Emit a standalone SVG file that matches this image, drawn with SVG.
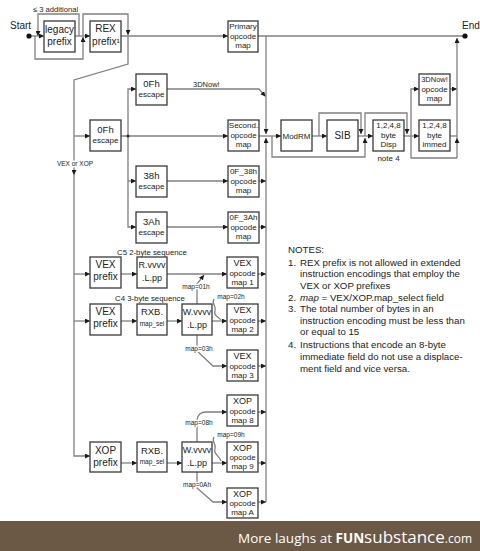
<svg xmlns="http://www.w3.org/2000/svg" width="480" height="551" viewBox="0 0 480 551">
<defs>
<marker id="ah" viewBox="0 0 6 6" refX="6" refY="3" markerWidth="5" markerHeight="5" markerUnits="userSpaceOnUse" orient="auto"><path d="M0,0 L6,3 L0,6 z" fill="#1a1a1a"/></marker>
</defs>
<style>
.b{fill:#fff;stroke:#3a3a3a;stroke-width:1.3}
.c path{fill:none;stroke:#808080;stroke-width:1.3}
.c path.a{marker-end:url(#ah)}
text{font-family:"Liberation Sans",Arial,sans-serif;fill:#222;text-anchor:middle}
.s10{font-size:10px}.s95{font-size:9.5px}.s9{font-size:9px}.s8{font-size:8px}.s75{font-size:7.5px}.s65{font-size:6.5px}
.lbl{font-size:6.5px;stroke:#fff;stroke-width:3;paint-order:stroke;stroke-linejoin:round}
.n{text-anchor:start;font-size:9.7px}
</style>
<rect width="480" height="551" fill="#fff"/>
<g class="c" id="connectors">
<path class="a" d="M31,36 H44"/>
<path class="a" d="M75,36 H90"/>
<path class="a" d="M79,36 V14 H38 V36"/>
<path class="a" d="M35,36 V59 H83 V37"/>
<path class="a" d="M83,36 V14 H128 V35"/>
<path class="a" d="M121,36 H228"/>
<path d="M258,36 H463"/>
<path class="a" d="M128,36 V64 L74,80 V175"/>
<path class="a" d="M74,175 V456 H90"/>
<path class="a" d="M74,136 H90"/>
<path class="a" d="M74,274 H90"/>
<path class="a" d="M74,321 H90"/>
<path class="a" d="M121,136 H228"/>
<path class="a" d="M128,136 V89 H136"/>
<path class="a" d="M128,136 V227 H136"/>
<path class="a" d="M128,181 H136"/>
<path class="a" d="M167,181 H228"/>
<path class="a" d="M167,227 H228"/>
<path class="a" d="M167,89 H259 L265.5,96.5"/>
<path class="a" d="M266,36 V134"/>
<path d="M259,136 H266"/>
<path class="a" d="M266,136 H281"/>
<path class="a" d="M266,502 V138"/>
<path class="a" d="M259,181 H266"/>
<path class="a" d="M259,227 H266"/>
<path class="a" d="M258,274 H266"/>
<path class="a" d="M258,321 H266"/>
<path class="a" d="M258,366 H266"/>
<path class="a" d="M258,412 H266"/>
<path class="a" d="M258,463 H266"/>
<path class="a" d="M258,502 H266"/>
<path class="a" d="M121,274 H137"/>
<path class="a" d="M167,274 H227"/>
<path class="a" d="M197,304 V284 L204,275"/>
<path class="a" d="M121,321 H137"/>
<path class="a" d="M167,321 H182"/>
<path class="a" d="M212,321 H227"/>
<path d="M214,299 C211,304 217,306 215,311 C213,316 219,317 221,320"/>
<path class="a" d="M197,335 V351 L213,366 H227"/>
<path class="a" d="M197,442 V420 Q198,412 206,412 H227"/>
<path d="M214,437 C211,442 217,444 215,449 C213,454 219,455 221,461"/>
<path class="a" d="M121,463 H137"/>
<path class="a" d="M167,463 H182"/>
<path class="a" d="M212,463 H227"/>
<path class="a" d="M197,472 V488 L213,502 H227"/>
<path class="a" d="M312,136 H327"/>
<path class="a" d="M319,136 V113 H361 V134"/>
<path class="a" d="M272,136 V157 H365 V138"/>
<path class="a" d="M358,136 H373"/>
<path class="a" d="M365,136 V113 H407 V134"/>
<path class="a" d="M404,136 H419"/>
<path class="a" d="M411,136 V89 H419"/>
<path d="M411,136 V158 H457"/>
<path d="M450,136 H457"/>
<path class="a" d="M450,89 H457"/>
<path class="a" d="M457,158 V138"/>
<path class="a" d="M457,138 V38"/>
</g>
<circle cx="29" cy="36" r="2.6" fill="#111"/>
<circle cx="465" cy="36" r="2.6" fill="#111"/>
<circle cx="128" cy="136" r="1.6" fill="#333"/>
<text class="s10" x="10" y="28.5" style="text-anchor:start">Start</text>
<text class="s10" x="462" y="28.5" style="text-anchor:start">End</text>
<text x="33" y="11.5" style="text-anchor:start;font-size:7.6px">≤ 3 additional</text>
<text x="193" y="86.5" style="text-anchor:start;font-size:7.5px">3DNow!</text>
<text class="lbl" x="75" y="165.5">VEX or XOP</text>
<text x="117" y="255" style="text-anchor:start;font-size:7.8px">C5 2-byte sequence</text>
<text x="115" y="301" style="text-anchor:start;font-size:7.8px">C4 3-byte sequence</text>
<text class="lbl" x="196" y="288.5">map=01h</text>
<text class="lbl" x="231" y="299">map=02h</text>
<text class="lbl" x="199" y="350.5">map=03h</text>
<text class="lbl" x="199" y="424.5">map=08h</text>
<text class="lbl" x="231" y="437">map=09h</text>
<text class="lbl" x="197" y="486.5">map=0Ah</text>
<text class="s8" x="388.5" y="161">note 4</text>
<g id="legacy"><rect class="b" x="44" y="21" width="31" height="31"/><text class="s10" x="59.5" y="33">legacy</text><text class="s10" x="59.5" y="45">prefix</text></g>
<g id="rex"><rect class="b" x="90" y="21" width="31" height="31"/><text class="s10" x="105.5" y="32">REX</text><text class="s10" x="106" y="45">prefix¹</text></g>
<g id="primary"><rect class="b" x="228" y="21" width="30" height="31"/><text class="s8" x="243" y="29">Primary</text><text class="s8" x="243" y="38.5">opcode</text><text class="s8" x="243" y="48">map</text></g>
<g id="esc0f_a"><rect class="b" x="136" y="74" width="31" height="31"/><text class="s95" x="151.5" y="86.5">0Fh</text><text class="s8" x="151.5" y="96.5">escape</text></g>
<g id="esc0f_b"><rect class="b" x="90" y="120" width="31" height="31"/><text class="s95" x="105.5" y="132.5">0Fh</text><text class="s8" x="105.5" y="142.5">escape</text></g>
<g id="second"><rect class="b" x="228" y="120" width="31" height="31"/><text class="s8" x="243.5" y="128">Second.</text><text class="s8" x="243.5" y="137.5">opcode</text><text class="s8" x="243.5" y="147">map</text></g>
<g id="esc38"><rect class="b" x="136" y="166" width="31" height="31"/><text class="s95" x="151.5" y="178.5">38h</text><text class="s8" x="151.5" y="188.5">escape</text></g>
<g id="map38"><rect class="b" x="228" y="166" width="31" height="31"/><text class="s8" x="243.5" y="174">0F_38h</text><text class="s8" x="243.5" y="183.5">opcode</text><text class="s8" x="243.5" y="193">map</text></g>
<g id="esc3a"><rect class="b" x="136" y="212" width="31" height="31"/><text class="s95" x="151.5" y="224.5">3Ah</text><text class="s8" x="151.5" y="234.5">escape</text></g>
<g id="map3a"><rect class="b" x="228" y="212" width="31" height="31"/><text class="s8" x="243.5" y="220">0F_3Ah</text><text class="s8" x="243.5" y="229.5">opcode</text><text class="s8" x="243.5" y="239">map</text></g>
<g id="vex1"><rect class="b" x="90" y="257" width="31" height="31"/><text class="s10" x="105.5" y="268">VEX</text><text class="s10" x="105.5" y="280">prefix</text></g>
<g id="rvvvv"><rect class="b" x="137" y="257" width="30" height="31"/><text class="s9" x="152" y="268">R.vvvv</text><text class="s9" x="152" y="281">.L.pp</text></g>
<g id="vmap1"><rect class="b" x="227" y="257" width="31" height="31"/><text class="s9" x="242.5" y="266">VEX</text><text class="s8" x="242.5" y="275.5">opcode</text><text class="s8" x="242.5" y="285">map 1</text></g>
<g id="vex2"><rect class="b" x="90" y="304" width="31" height="31"/><text class="s10" x="105.5" y="315">VEX</text><text class="s10" x="105.5" y="327">prefix</text></g>
<g id="rxb1"><rect class="b" x="137" y="304" width="30" height="31"/><text class="s95" x="152" y="315">RXB.</text><text class="s65" x="152" y="325.5">map_sel</text></g>
<g id="wvvvv1"><rect class="b" x="182" y="304" width="30" height="31"/><text class="s9" x="197" y="315">W.vvvv</text><text class="s9" x="197" y="328">.L.pp</text></g>
<g id="vmap2"><rect class="b" x="227" y="304" width="31" height="31"/><text class="s9" x="242.5" y="313">VEX</text><text class="s8" x="242.5" y="322.5">opcode</text><text class="s8" x="242.5" y="332">map 2</text></g>
<g id="vmap3"><rect class="b" x="227" y="350" width="31" height="31"/><text class="s9" x="242.5" y="359">VEX</text><text class="s8" x="242.5" y="368.5">opcode</text><text class="s8" x="242.5" y="378">map 3</text></g>
<g id="xmap8"><rect class="b" x="227" y="395" width="31" height="31"/><text class="s9" x="242.5" y="404">XOP</text><text class="s8" x="242.5" y="413.5">opcode</text><text class="s8" x="242.5" y="423">map 8</text></g>
<g id="xop"><rect class="b" x="90" y="442" width="31" height="30"/><text class="s10" x="105.5" y="453.5">XOP</text><text class="s10" x="105.5" y="466">prefix</text></g>
<g id="rxb2"><rect class="b" x="137" y="442" width="30" height="30"/><text class="s95" x="152" y="453.5">RXB.</text><text class="s65" x="152" y="464">map_sel</text></g>
<g id="wvvvv2"><rect class="b" x="182" y="442" width="30" height="30"/><text class="s9" x="197" y="453">W.vvvv</text><text class="s9" x="197" y="466">.L.pp</text></g>
<g id="xmap9"><rect class="b" x="227" y="442" width="31" height="30"/><text class="s9" x="242.5" y="450.5">XOP</text><text class="s8" x="242.5" y="459.5">opcode</text><text class="s8" x="242.5" y="469">map 9</text></g>
<g id="xmapA"><rect class="b" x="227" y="488" width="31" height="30"/><text class="s9" x="242.5" y="496.5">XOP</text><text class="s8" x="242.5" y="505.5">opcode</text><text class="s8" x="242.5" y="515">map A</text></g>
<g id="modrm"><rect class="b" x="281" y="120" width="31" height="31"/><text class="s8" x="296.5" y="138.5">ModRM</text></g>
<g id="sib"><rect class="b" x="327" y="120" width="31" height="31"/><text class="s10" x="342.5" y="139">SIB</text></g>
<g id="disp"><rect class="b" x="373" y="120" width="31" height="31"/><text class="s8" x="388.5" y="128">1,2,4,8</text><text class="s8" x="388.5" y="137.5">byte</text><text class="s8" x="388.5" y="147">Disp</text></g>
<g id="immed"><rect class="b" x="419" y="120" width="31" height="31"/><text class="s8" x="434.5" y="128">1,2,4,8</text><text class="s8" x="434.5" y="137.5">byte</text><text class="s8" x="434.5" y="147">immed</text></g>
<g id="map3dnow"><rect class="b" x="419" y="74" width="31" height="31"/><text class="s75" x="434.5" y="82">3DNow!</text><text class="s8" x="434.5" y="91.5">opcode</text><text class="s8" x="434.5" y="101">map</text></g>
<g id="notes">
<text class="n" x="288" y="253">NOTES:</text>
<text class="n" x="288" y="265.5">1.</text><text class="n" x="300" y="265.5">REX prefix is not allowed in extended</text>
<text class="n" x="300" y="277">instruction encodings that employ the</text>
<text class="n" x="300" y="288.5">VEX or XOP prefixes</text>
<text class="n" x="288" y="300.5">2.</text><text class="n" x="300" y="300.5"><tspan font-style="italic">map</tspan> = VEX/XOP.map_select field</text>
<text class="n" x="288" y="312">3.</text><text class="n" x="300" y="312">The total number of bytes in an</text>
<text class="n" x="300" y="323.5">instruction encoding must be less than</text>
<text class="n" x="300" y="335">or equal to 15</text>
<text class="n" x="288" y="348">4.</text><text class="n" x="300" y="348">Instructions that encode an 8-byte</text>
<text class="n" x="300" y="360">immediate field do not use a displace-</text>
<text class="n" x="300" y="371.5">ment field and vice versa.</text>
</g>
<rect x="0" y="521" width="480" height="30" fill="#6b5946"/>
<text x="472" y="543" style="text-anchor:end;font-family:'Open Sans',sans-serif;fill:#fff;font-size:13.5px">More laughs at <tspan font-weight="bold">FUN</tspan><tspan font-size="17px">substance</tspan><tspan font-size="12px">.com</tspan></text>
</svg>
